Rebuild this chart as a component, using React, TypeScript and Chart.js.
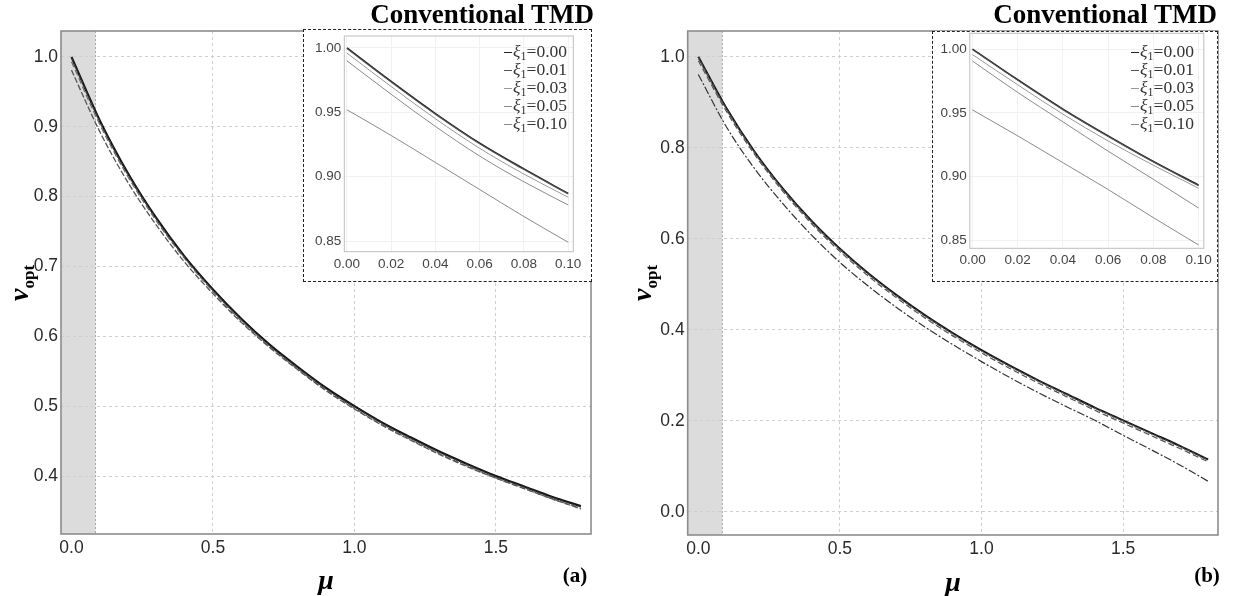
import React, { useEffect, useRef } from 'react';
import { Chart, registerables } from 'chart.js';
Chart.register(...registerables);

// ---------- data ----------
const mu = [0, 0.1, 0.2, 0.3, 0.4, 0.5, 0.6, 0.7, 0.8, 0.9, 1.0, 1.1, 1.2, 1.3, 1.4, 1.5, 1.6, 1.7, 1.8];
const xiLabels = ['0.00', '0.01', '0.03', '0.05', '0.10'];

// panel (a)
const aXi000 = [1.000, 0.909, 0.833, 0.769, 0.714, 0.667, 0.625, 0.588, 0.556, 0.526, 0.500, 0.476, 0.455, 0.435, 0.417, 0.400, 0.385, 0.370, 0.357];
const aXi001 = [0.999, 0.908, 0.832, 0.768, 0.713, 0.666, 0.624, 0.587, 0.555, 0.525, 0.499, 0.475, 0.454, 0.434, 0.416, 0.399, 0.384, 0.369, 0.356];
const aXi003 = [0.997, 0.906, 0.830, 0.767, 0.712, 0.665, 0.623, 0.586, 0.554, 0.524, 0.498, 0.474, 0.453, 0.433, 0.415, 0.398, 0.383, 0.368, 0.355];
const aXi005 = [0.993, 0.903, 0.828, 0.765, 0.711, 0.664, 0.622, 0.585, 0.553, 0.523, 0.497, 0.473, 0.452, 0.432, 0.414, 0.397, 0.382, 0.367, 0.354];
const aXi010 = [0.981, 0.893, 0.820, 0.759, 0.706, 0.661, 0.620, 0.584, 0.552, 0.522, 0.496, 0.472, 0.451, 0.431, 0.413, 0.397, 0.382, 0.367, 0.353];

// panel (b)
const bXi000 = [1.000, 0.886, 0.790, 0.709, 0.639, 0.578, 0.524, 0.476, 0.432, 0.392, 0.355, 0.321, 0.289, 0.259, 0.229, 0.201, 0.173, 0.145, 0.115];
const bXi001 = [0.999, 0.885, 0.789, 0.708, 0.638, 0.577, 0.523, 0.475, 0.431, 0.391, 0.354, 0.320, 0.288, 0.258, 0.228, 0.200, 0.172, 0.144, 0.114];
const bXi003 = [0.996, 0.883, 0.787, 0.706, 0.636, 0.575, 0.521, 0.473, 0.429, 0.389, 0.352, 0.318, 0.286, 0.256, 0.226, 0.198, 0.170, 0.142, 0.112];
const bXi005 = [0.991, 0.879, 0.784, 0.703, 0.633, 0.572, 0.518, 0.470, 0.426, 0.386, 0.349, 0.315, 0.283, 0.253, 0.223, 0.195, 0.167, 0.139, 0.110];
const bXi010 = [0.961, 0.845, 0.753, 0.676, 0.608, 0.548, 0.496, 0.449, 0.406, 0.367, 0.330, 0.295, 0.262, 0.231, 0.201, 0.168, 0.136, 0.103, 0.067];

// insets
const insetX = [0, 0.02, 0.04, 0.06, 0.08, 0.10];
const iaXi000 = [1.000, 0.974, 0.949, 0.926, 0.906, 0.887];
const iaXi001 = [0.9995, 0.9735, 0.9485, 0.9255, 0.9055, 0.8865];
const iaXi003 = [0.996, 0.970, 0.945, 0.922, 0.902, 0.884];
const iaXi005 = [0.990, 0.964, 0.939, 0.916, 0.896, 0.878];
const iaXi010 = [0.952, 0.932, 0.911, 0.890, 0.869, 0.849];

const ibXi000 = [1.000, 0.976, 0.953, 0.932, 0.912, 0.8935];
const ibXi001 = [0.9995, 0.9755, 0.9525, 0.9315, 0.9115, 0.893];
const ibXi003 = [0.9956, 0.972, 0.949, 0.928, 0.909, 0.891];
const ibXi005 = [0.9906, 0.966, 0.943, 0.920, 0.898, 0.8755];
const ibXi010 = [0.9523, 0.932, 0.911, 0.890, 0.868, 0.8466];

// ticks
const mainXTicks = [0, 0.5, 1.0, 1.5];
const aYTicks = [0.4, 0.5, 0.6, 0.7, 0.8, 0.9, 1.0];
const bYTicks = [0.0, 0.2, 0.4, 0.6, 0.8, 1.0];
const insetXTicks = [0, 0.02, 0.04, 0.06, 0.08, 0.10];
const insetYTicks = [0.85, 0.90, 0.95, 1.00];
const shadeMax = 0.085;

// ---------- styles ----------
const mainStylesA = [
  { color: '#111111', width: 2.2, dash: [] as number[] },
  { color: '#333333', width: 1.2, dash: [4, 2] },
  { color: '#555555', width: 1.1, dash: [1, 2] },
  { color: '#666666', width: 1.1, dash: [6, 3] },
  { color: '#555555', width: 1.3, dash: [6, 2] },
];
const mainStylesB = [
  { color: '#111111', width: 2.0, dash: [] as number[] },
  { color: '#444444', width: 1.2, dash: [4, 2] },
  { color: '#666666', width: 1.2, dash: [1, 2] },
  { color: '#555555', width: 1.2, dash: [6, 3] },
  { color: '#333333', width: 1.2, dash: [8, 2, 2, 2] },
];
const insetStyles = [
  { color: '#222222', width: 1.5, dash: [] as number[] },
  { color: '#555555', width: 1.1, dash: [] as number[] },
  { color: '#999999', width: 1.0, dash: [] as number[] },
  { color: '#8a8a8a', width: 1.0, dash: [] as number[] },
  { color: '#8a8a8a', width: 1.0, dash: [] as number[] },
];

const TICK_FONT = "'Liberation Sans', Arial, sans-serif";
const SERIF = "'Liberation Serif', 'Times New Roman', serif";

const framePlugin = (color: string, width: number) => ({
  id: 'frame',
  afterDatasetsDraw(chart: any) {
    const { ctx, chartArea: a } = chart;
    ctx.save();
    ctx.strokeStyle = color;
    ctx.lineWidth = width;
    ctx.setLineDash([]);
    ctx.strokeRect(a.left, a.top, a.right - a.left, a.bottom - a.top);
    ctx.restore();
  },
});

const shadePlugin = {
  id: 'shade',
  beforeDraw(chart: any) {
    const { ctx, chartArea: a, scales } = chart;
    const x1 = scales.x.getPixelForValue(shadeMax);
    ctx.save();
    ctx.fillStyle = '#dcdcdc';
    ctx.fillRect(a.left, a.top, x1 - a.left, a.bottom - a.top);
    ctx.strokeStyle = '#a8a8a8';
    ctx.lineWidth = 1;
    ctx.setLineDash([2, 2]);
    ctx.beginPath();
    ctx.moveTo(x1, a.top);
    ctx.lineTo(x1, a.bottom);
    ctx.stroke();
    ctx.restore();
  },
};

function makeDatasets(xs: number[], series: number[][], styles: any[]) {
  return series.map((ys, i) => ({
    label: 'ξ1=' + xiLabels[i],
    data: xs.map((x, j) => ({ x, y: ys[j] })),
    borderColor: styles[i].color,
    borderWidth: styles[i].width,
    borderDash: styles[i].dash,
    pointRadius: 0,
    fill: false,
    cubicInterpolationMode: 'monotone' as const,
  })).reverse();
}

function buildConfig(opts: {
  xs: number[]; series: number[][]; styles: any[];
  xMin: number; xMax: number; yMin: number; yMax: number;
  xTicks: number[]; yTicks: number[]; digits: number;
  padding: any; yWidth: number; xHeight: number;
  fontSize: number; tickColor: string; gridColor: string; gridDash: number[];
  frameColor: string; frameWidth: number; shade: boolean; skipZeroGrid: boolean;
  yPad: number; xPad: number;
}) {
  const plugins: any[] = [framePlugin(opts.frameColor, opts.frameWidth)];
  if (opts.shade) plugins.unshift(shadePlugin);
  return {
    type: 'line' as const,
    data: { datasets: makeDatasets(opts.xs, opts.series, opts.styles) },
    options: {
      animation: false as const,
      responsive: false,
      devicePixelRatio: 1,
      layout: { padding: opts.padding },
      plugins: { legend: { display: false }, tooltip: { enabled: false } },
      scales: {
        x: {
          type: 'linear' as const,
          min: opts.xMin,
          max: opts.xMax,
          afterBuildTicks: (s: any) => { s.ticks = opts.xTicks.map((v) => ({ value: v })); },
          afterFit: (s: any) => { s.height = opts.xHeight; s.paddingLeft = 0; s.paddingRight = 0; },
          ticks: {
            callback: (v: any) => Number(v).toFixed(opts.digits),
            font: { family: TICK_FONT, size: opts.fontSize },
            color: opts.tickColor,
            padding: opts.xPad,
            maxRotation: 0,
            autoSkip: false,
          },
          grid: {
            color: (c: any) => (opts.skipZeroGrid && c.tick && c.tick.value === 0 ? 'rgba(0,0,0,0)' : opts.gridColor),
            drawTicks: false,
            lineWidth: 1,
          },
          border: { display: false, dash: opts.gridDash },
        },
        y: {
          type: 'linear' as const,
          min: opts.yMin,
          max: opts.yMax,
          afterBuildTicks: (s: any) => { s.ticks = opts.yTicks.map((v) => ({ value: v })); },
          afterFit: (s: any) => { s.width = opts.yWidth; s.paddingTop = 0; s.paddingBottom = 0; },
          ticks: {
            callback: (v: any) => Number(v).toFixed(opts.digits),
            font: { family: TICK_FONT, size: opts.fontSize },
            color: opts.tickColor,
            padding: opts.yPad,
            autoSkip: false,
          },
          grid: { color: opts.gridColor, drawTicks: false, lineWidth: 1 },
          border: { display: false, dash: opts.gridDash },
        },
      },
    },
    plugins,
  };
}

function ChartCanvas({ left, top, width, height, config }: any) {
  const ref = useRef<HTMLCanvasElement | null>(null);
  useEffect(() => {
    if (!ref.current) return;
    const chart = new Chart(ref.current, config);
    return () => chart.destroy();
  }, []);
  return (
    <canvas
      ref={ref}
      width={width}
      height={height}
      style={{ position: 'absolute', left, top, width, height }}
    />
  );
}

function Legend({ right, top }: { right: number; top: number }) {
  return (
    <div style={{ position: 'absolute', left: 0, top, width: right, fontFamily: SERIF, color: '#333' }}>
      {xiLabels.map((lab, i) => (
        <div
          key={lab}
          style={{
            display: 'flex', justifyContent: 'flex-end', alignItems: 'center',
            height: 18.1, fontSize: 17.5, lineHeight: '18px', whiteSpace: 'nowrap',
          }}
        >
          <span style={{ display: 'inline-block', width: 8, height: 1, background: insetStyles[i].color, marginRight: 1, marginTop: 2 }} />
          <span>
            <i>ξ</i>
            <span style={{ fontSize: 12, position: 'relative', top: 3 }}>1</span>=
            {lab}
          </span>
        </div>
      ))}
    </div>
  );
}

function AxisLabels({ yx, yy, mx, my, tagX, tagY, tag, titleRight }: any) {
  return (
    <>
      <div
        style={{
          position: 'absolute', left: 1238 - titleRight - 400, width: 400, top: 1, textAlign: 'right',
          fontFamily: SERIF, fontWeight: 'bold', fontSize: 27, lineHeight: '27px', color: '#000', whiteSpace: 'nowrap',
        }}
      >
        Conventional TMD
      </div>
      <div
        style={{
          position: 'absolute', left: yx, top: yy, transform: 'translate(-50%, -50%) rotate(-90deg)',
          fontFamily: SERIF, fontWeight: 'bold', color: '#000', whiteSpace: 'nowrap', lineHeight: '30px',
        }}
      >
        <span style={{ fontStyle: 'italic', fontSize: 28 }}>ν</span>
        <span style={{ fontSize: 17, position: 'relative', top: 6 }}>opt</span>
      </div>
      <div
        style={{
          position: 'absolute', left: mx, top: my, transform: 'translate(-50%, -50%)',
          fontFamily: SERIF, fontWeight: 'bold', fontStyle: 'italic', fontSize: 28, lineHeight: '30px', color: '#000',
        }}
      >
        μ
      </div>
      <div
        style={{
          position: 'absolute', left: tagX, top: tagY, transform: 'translate(-50%, -50%)',
          fontFamily: SERIF, fontWeight: 'bold', fontSize: 21, lineHeight: '24px', color: '#000',
        }}
      >
        {tag}
      </div>
    </>
  );
}

export default function App() {
  const cfgA = buildConfig({
    xs: mu, series: [aXi000, aXi001, aXi003, aXi005, aXi010], styles: mainStylesA,
    xMin: -0.037, xMax: 1.836, yMin: 0.317, yMax: 1.037,
    xTicks: mainXTicks, yTicks: aYTicks, digits: 1,
    padding: { left: 0, top: 31, right: 9, bottom: 22 }, yWidth: 61, xHeight: 40,
    fontSize: 17.5, tickColor: '#2a2a2a', gridColor: '#cfcfcf', gridDash: [3, 3],
    frameColor: '#8c8c8c', frameWidth: 1.6, shade: true, skipZeroGrid: true, yPad: 3, xPad: 4,
  });
  const cfgB = buildConfig({
    xs: mu, series: [bXi000, bXi001, bXi003, bXi005, bXi010], styles: mainStylesB,
    xMin: -0.0375, xMax: 1.835, yMin: -0.051, yMax: 1.0565,
    xTicks: mainXTicks, yTicks: bYTicks, digits: 1,
    padding: { left: 0, top: 31, right: 8, bottom: 21 }, yWidth: 67.7, xHeight: 40,
    fontSize: 17.5, tickColor: '#2a2a2a', gridColor: '#cfcfcf', gridDash: [3, 3],
    frameColor: '#8c8c8c', frameWidth: 1.6, shade: true, skipZeroGrid: true, yPad: 3, xPad: 4,
  });
  const cfgIA = buildConfig({
    xs: insetX, series: [iaXi000, iaXi001, iaXi003, iaXi005, iaXi010], styles: insetStyles,
    xMin: -0.0012, xMax: 0.1023, yMin: 0.8417, yMax: 1.0093,
    xTicks: insetXTicks, yTicks: insetYTicks, digits: 2,
    padding: { left: 0, top: 5, right: 16.7, bottom: 6.3 }, yWidth: 39.3, xHeight: 22,
    fontSize: 13.5, tickColor: '#444', gridColor: '#f1f1f1', gridDash: [],
    frameColor: '#bdbdbd', frameWidth: 1, shade: false, skipZeroGrid: false, yPad: 3, xPad: 4,
  });
  const cfgIB = buildConfig({
    xs: insetX, series: [ibXi000, ibXi001, ibXi003, ibXi005, ibXi010], styles: insetStyles,
    xMin: -0.0012, xMax: 0.1023, yMin: 0.844, yMax: 1.0123,
    xTicks: insetXTicks, yTicks: insetYTicks, digits: 2,
    padding: { left: 0, top: 1.3, right: 13.2, bottom: 9.7 }, yWidth: 35.8, xHeight: 22,
    fontSize: 13.5, tickColor: '#444', gridColor: '#f1f1f1', gridDash: [],
    frameColor: '#bdbdbd', frameWidth: 1, shade: false, skipZeroGrid: false, yPad: 3, xPad: 4,
  });

  return (
    <div style={{ position: 'fixed', left: 0, top: 0, width: 1238, height: 596, background: '#fff', overflow: 'hidden' }}>
      <ChartCanvas left={0} top={0} width={600} height={596} config={cfgA} />
      <ChartCanvas left={620} top={0} width={606} height={596} config={cfgB} />

      <div style={{ position: 'absolute', left: 303, top: 29, width: 289, height: 253, boxSizing: 'border-box', border: '1.5px dashed #222', background: '#fff' }} />
      <div style={{ position: 'absolute', left: 931.7, top: 31, width: 286.6, height: 250.7, boxSizing: 'border-box', border: '1.5px dashed #222', background: '#fff' }} />

      <ChartCanvas left={305} top={30.7} width={285} height={249.3} config={cfgIA} />
      <ChartCanvas left={933.5} top={32} width={283} height={248} config={cfgIB} />

      <Legend right={567} top={42.5} />
      <Legend right={1194} top={42.5} />

      <AxisLabels yx={21} yy={283} mx={326} my={580} tagX={575} tagY={575} tag="(a)" titleRight={1238 - 594} />
      <AxisLabels yx={644} yy={283} mx={953} my={582} tagX={1207} tagY={575} tag="(b)" titleRight={1238 - 1217} />
    </div>
  );
}
